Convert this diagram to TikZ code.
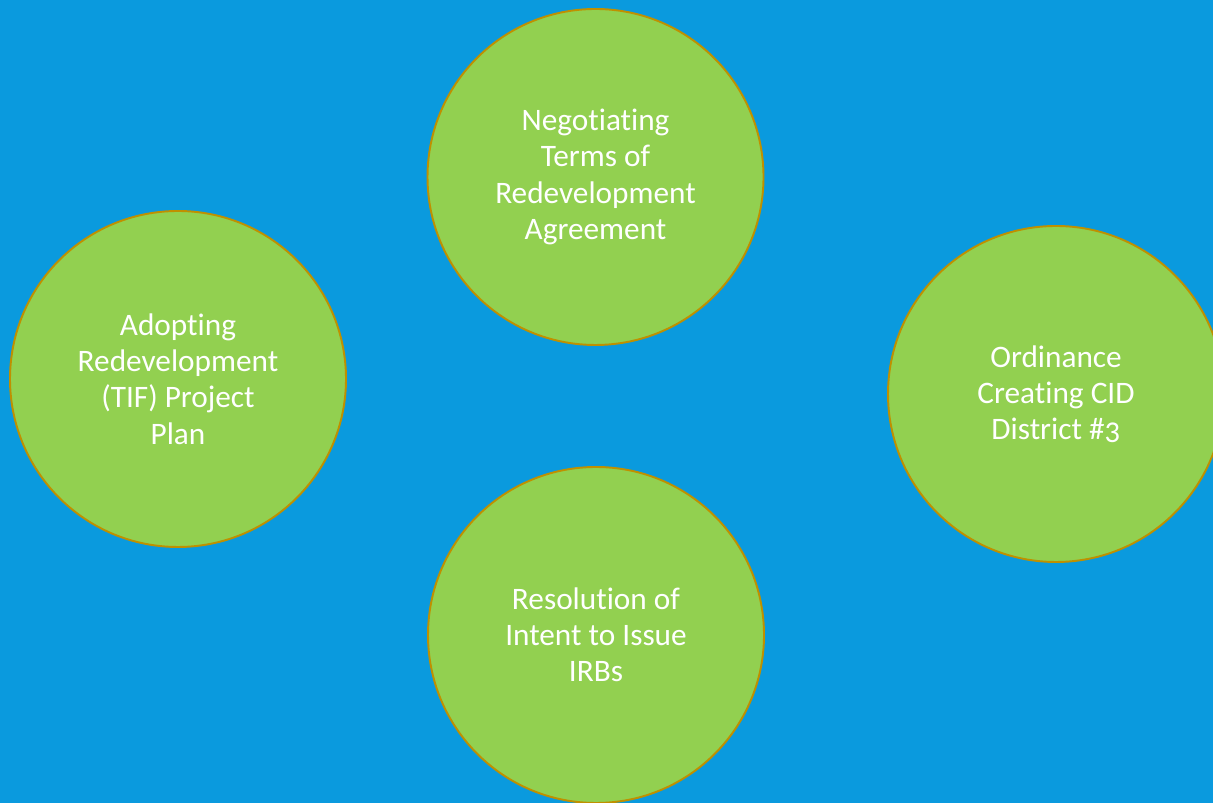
\documentclass[tikz,border=0pt]{standalone}
\usepackage{fontspec}
\setmainfont{Carlito}[Numbers=OldStyle, Ligatures=NoCommon]
\usepackage{tikz}

\definecolor{slideblue}{HTML}{0A9ADE}
\definecolor{stagegreen}{HTML}{92D050}
\definecolor{stagerim}{HTML}{BF9000}

\tikzset{
  stage/.style = {circle, draw=stagerim, line width=1.1pt, fill=stagegreen,
                  minimum size=6.72cm, inner sep=0pt, text=white, align=center,
                  font=\fontsize{17.8pt}{20.6pt}\selectfont}
}

\begin{document}
\begin{tikzpicture}
            \useasboundingbox (0,0) rectangle (24.26,16.06);
            \clip (0,0) rectangle (24.26,16.06);
            \fill[slideblue] (0,0) rectangle (24.26,16.06);

            % the four steps
            \node[stage] (terms) at (11.91,12.52) {Negotiating\\Terms of\\Redevelopment\\Agreement};
            \node[stage] (plan) at (3.56,8.48) {Adopting\\Redevelopment\\(TIF) Project\\Plan};
            \node[stage] (cid) at (21.12,8.18) {Ordinance\\Creating CID\\District \#3};
            \node[stage] (irb) at (11.92,3.36) {Resolution of\\Intent to Issue\\IRBs};
\end{tikzpicture}
\end{document}
